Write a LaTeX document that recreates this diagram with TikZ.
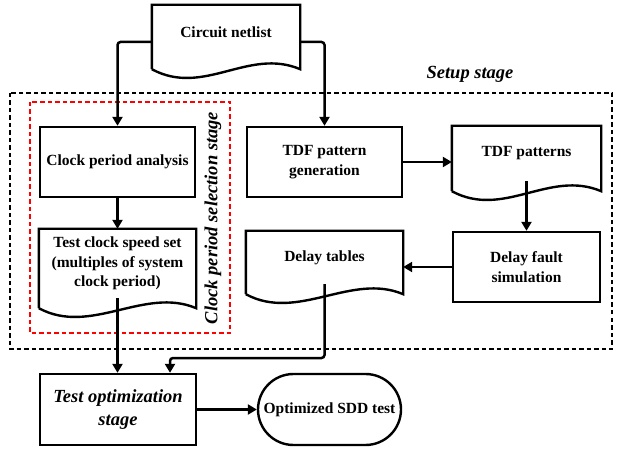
\documentclass[tikz,border=0pt]{standalone}
\usepackage{fontspec}
\setmainfont{Liberation Serif}
\usetikzlibrary{positioning, arrows.meta, shapes.misc, calc}

% document symbol: box outline with a wavy bottom edge
\newcommand{\docshape}[1]{%
	\draw[outline] ([yshift=-10pt]#1.south west) -- (#1.north west) -- (#1.north east) -- ([yshift=-10pt]#1.south east)
		.. controls +(-52,-22) and +(52,28) .. ([yshift=-10pt]#1.south west);}

\begin{document}
\begin{tikzpicture}[x=1pt, y=-1pt]
	\tikzset{
		outline/.style={line width=2.4pt, line join=miter},
		box/.style={rectangle, draw, outline, align=center, inner sep=2pt,
			font=\fontsize{15.5}{19.5}\selectfont\bfseries},
		doc/.style={box, draw=none},
		arr/.style={line width=2.5pt, -{Triangle[length=9pt, width=10pt]}},
		stagelabel/.style={font=\fontsize{18.5}{23}\selectfont\bfseries\itshape, inner sep=0pt},
		region/.style={line width=2.6pt, dash pattern=on 4.5pt off 3pt}
	}
	\useasboundingbox (0,0) rectangle (624,449);
	
	% stage regions
	\draw[region] (10,93) rectangle (612,349);
	\draw[region, red] (30,102) rectangle (230,333);
	\node[stagelabel] (setup) at (470,74) {Setup stage};
	\node[stagelabel, rotate=90] (select) at (213,218) {Clock period selection stage};
	
	% blocks
	\node[doc, minimum width=146pt, minimum height=52pt] (net) at (226,32) {Circuit netlist};
	\node[box, minimum width=155pt, minimum height=70pt] (cpa) at (117.5,162) {Clock period analysis};
	\node[doc, minimum width=155pt, minimum height=67pt] (tcs) at (117.5,263.5) {Test clock speed set\\(multiples of system\\clock period)};
	\node[box, minimum width=155pt, minimum height=70pt] (gen) at (324.5,162) {TDF pattern\\generation};
	\node[doc, minimum width=147pt, minimum height=53pt] (pat) at (526.5,153.5) {TDF patterns};
	\node[box, minimum width=147pt, minimum height=70pt] (dfs) at (526.5,267) {Delay fault\\simulation};
	\node[doc, minimum width=155pt, minimum height=51pt] (dtab) at (324.5,257.5) {Delay tables};
	\node[box, minimum width=156pt, minimum height=71pt,
		font=\fontsize{18.5}{23}\selectfont\bfseries\itshape] (opt) at (118,409.5) {Test optimization\\stage};
	\node[box, rounded rectangle, minimum width=147pt, minimum height=71pt] (sdd) at (329.5,409.5) {Optimized SDD test};
	
	\docshape{net}
	\docshape{tcs}
	\docshape{pat}
	\docshape{dtab}
	
	% flow
	\draw[arr, rounded corners=3pt] ([yshift=-10pt]net.west) -| (cpa.north);
	\draw[arr, rounded corners=3pt] ([yshift=-10pt]net.east) -| (gen.north);
	\draw[arr] (cpa.south) -- (tcs.north);
	\draw[arr] (gen.east) -- (gen.east -| pat.west);
	\draw[arr] (pat.south) -- (dfs.north);
	\draw[arr] (dfs.west) -- (dfs.west -| dtab.east);
	\coordinate (joint) at (170,358);
	\draw[arr, rounded corners=3pt] (dtab.south) |- (joint) -- (joint |- opt.north);
	\draw[arr] (tcs.south) -- (tcs.south |- opt.north);
	\draw[arr] (opt.east) -- (sdd.west);
\end{tikzpicture}
\end{document}
